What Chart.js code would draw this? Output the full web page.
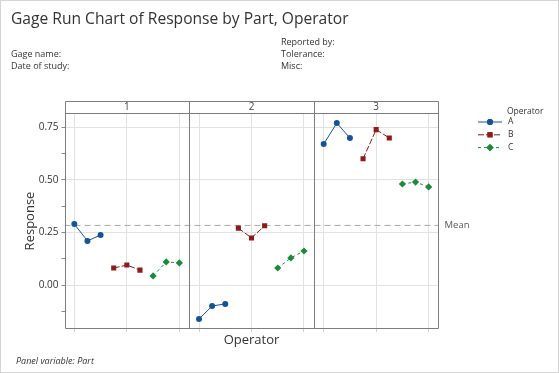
<!DOCTYPE html>
<html><head><meta charset="utf-8">
<script src="https://cdn.jsdelivr.net/npm/chart.js@4/dist/chart.umd.min.js"></script>
<style>
html,body{margin:0;padding:0;background:#fff;}
#wrap{position:relative;width:559px;height:373px;overflow:hidden;font-family:"Open Sans",sans-serif;color:#333;}
#c{position:absolute;left:0;top:0;}
.t{position:absolute;white-space:nowrap;line-height:1;}
#frame{position:absolute;left:0;top:0;width:557px;height:371px;border:1px solid #d4d4d4;pointer-events:none;}
</style></head><body>
<div id="wrap">
<canvas id="c" width="559" height="373"></canvas>
<div class="t" style="left:11px;top:11px;font-size:15.6px;color:#333;">Gage Run Chart of Response by Part, Operator</div>
<div class="t" style="left:11px;top:48.5px;font-size:9px;">Gage name:</div>
<div class="t" style="left:11px;top:61px;font-size:9px;">Date of study:</div>
<div class="t" style="left:281px;top:36.5px;font-size:9px;">Reported by:</div>
<div class="t" style="left:281px;top:48.5px;font-size:9px;">Tolerance:</div>
<div class="t" style="left:281px;top:61px;font-size:9px;">Misc:</div>
<div class="t" style="left:16px;top:355.5px;font-size:9px;font-style:italic;">Panel variable: Part</div>
<div id="frame"></div>
</div>
<script>
// ---- data ----
const parts = ['1', '2', '3'];
const operators = ['A', 'B', 'C'];
// three trials per part, parts in order 1,2,3
const responseA = [0.290, 0.210, 0.238, -0.162, -0.100, -0.090, 0.671, 0.771, 0.700];
const responseB = [0.081, 0.095, 0.071, 0.271, 0.224, 0.282, 0.601, 0.740, 0.700];
const responseC = [0.043, 0.110, 0.105, 0.081, 0.129, 0.162, 0.481, 0.490, 0.467];
const yTickValues = [-0.125, 0, 0.125, 0.25, 0.375, 0.5, 0.625, 0.75];
const yMajorTicks = [0, 0.25, 0.5, 0.75];

const seriesValues = [responseA, responseB, responseC];
const colors = ['#15529a', '#8e1a1a', '#1c8a3a'];
const dashes = [[], [6, 2], [3, 3]];
const pointStyles = ['circle', 'rect', 'rectRot'];
const pointRadii = [3, 3.6, 3.6];

const PANEL = 9.5, PAD = 0.75, TRIALS = 3;
const allVals = seriesValues.flat();
const meanValue = allVals.reduce((s, v) => s + v, 0) / allVals.length;

const datasets = [];
operators.forEach((op, o) => {
  const pts = [];
  parts.forEach((p, pi) => {
    for (let t = 0; t < TRIALS; t++) {
      pts.push({x: pi * PANEL + PAD + o * TRIALS + t, y: seriesValues[o][pi * TRIALS + t]});
    }
    if (pi < parts.length - 1) pts.push({x: (pi + 1) * PANEL, y: null});
  });
  datasets.push({
    label: op, data: pts, borderColor: colors[o], backgroundColor: colors[o],
    borderWidth: 1, borderDash: dashes[o], pointStyle: pointStyles[o],
    pointRadius: pointRadii[o], pointBorderWidth: 0, spanGaps: false, order: 1, tension: 0
  });
});
datasets.push({
  label: 'Mean', data: [{x: 0, y: meanValue}, {x: parts.length * PANEL, y: meanValue}],
  borderColor: '#a8a8a8', borderWidth: 1, borderDash: [6, 4], pointRadius: 0, order: 5
});

const FONT = '"Open Sans", sans-serif';
const framePlugin = {
  id: 'framePlugin',
  afterDraw(chart) {
    const {ctx, chartArea: a, scales: {x, y}} = chart;
    const stripTop = Math.round(a.top) - 12;
    const L = Math.round(a.left) + 0.5, R = Math.round(a.right) - 0.5;
    const T = Math.round(a.top) + 0.5, B = Math.round(a.bottom) - 0.5;
    ctx.save();
    ctx.strokeStyle = '#7d7d7d'; ctx.lineWidth = 1;
    ctx.beginPath();
    ctx.rect(L, stripTop + 0.5, R - L, B - stripTop - 0.5);
    ctx.moveTo(L, T); ctx.lineTo(R, T);
    for (let p = 1; p < parts.length; p++) {
      const px = Math.round(x.getPixelForValue(p * PANEL)) + 0.5;
      ctx.moveTo(px, stripTop); ctx.lineTo(px, B);
    }
    ctx.stroke();
    ctx.fillStyle = '#444'; ctx.font = '10px ' + FONT;
    ctx.textAlign = 'center'; ctx.textBaseline = 'middle';
    parts.forEach((p, pi) => {
      ctx.fillText(p, x.getPixelForValue(pi * PANEL + PANEL / 2), stripTop + 6.5);
    });
    // mean label
    ctx.textAlign = 'left'; ctx.font = '9.5px ' + FONT; ctx.fillStyle = '#555';
    ctx.fillText('Mean', R + 6, y.getPixelForValue(meanValue));
    // legend
    const lx = 478, ly = 112;
    ctx.fillStyle = '#333'; ctx.font = '8.5px ' + FONT;
    ctx.fillText('Operator', 507, ly);
    operators.forEach((op, o) => {
      const yy = ly + 10 + o * 12.8;
      ctx.strokeStyle = colors[o]; ctx.setLineDash(dashes[o]); ctx.lineWidth = 1;
      ctx.beginPath(); ctx.moveTo(lx, yy); ctx.lineTo(lx + 24, yy); ctx.stroke();
      ctx.setLineDash([]);
      ctx.fillStyle = colors[o];
      Chart.helpers.drawPoint(ctx, {pointStyle: pointStyles[o], radius: pointRadii[o], borderWidth: 0}, lx + 12, yy);
      ctx.fill();
      ctx.fillStyle = '#333';
      ctx.fillText(op, 508, yy);
    });
    ctx.restore();
  }
};

new Chart(document.getElementById('c'), {
  type: 'line',
  data: {datasets},
  options: {
    responsive: false, animation: false,
    layout: {padding: {left: 0, right: 120.5, top: 113, bottom: 0}},
    plugins: {legend: {display: false}, tooltip: {enabled: false}, title: {display: false}},
    scales: {
      x: {
        type: 'linear', min: 0, max: parts.length * PANEL,
        afterBuildTicks(s) {
          const t = [];
          parts.forEach((p, pi) => [0, 4, 8].forEach(i => t.push({value: pi * PANEL + PAD + i})));
          s.ticks = t;
        },
        afterFit(s) { s.height = 44; },
        ticks: {display: false},
        grid: {color: '#e2e2e2', lineWidth: 1, drawTicks: true, tickLength: 3, tickColor: '#d0d0d0'},
        border: {display: false},
        title: {display: true, text: 'Operator', color: '#333', font: {family: FONT, size: 13}, padding: {top: 0, bottom: 25}}
      },
      y: {
        type: 'linear', min: -0.2095, max: 0.819,
        afterBuildTicks(s) { s.ticks = yTickValues.map(v => ({value: v})); },
        afterFit(s) { s.width = 64.5; },
        ticks: {
          color: '#333', font: {family: FONT, size: 10}, padding: 3,
          callback: v => yMajorTicks.includes(v) ? v.toFixed(2) : ''
        },
        grid: {
          color: c => yMajorTicks.includes(c.tick && c.tick.value) ? '#e2e2e2' : 'rgba(0,0,0,0)',
          tickColor: '#888', tickWidth: 1, tickLength: 3, drawTicks: true
        },
        border: {display: false},
        title: {display: true, text: 'Response', color: '#333', font: {family: FONT, size: 13}, padding: {top: 22, bottom: 0}}
      }
    }
  },
  plugins: [framePlugin]
});
</script>
</body></html>
